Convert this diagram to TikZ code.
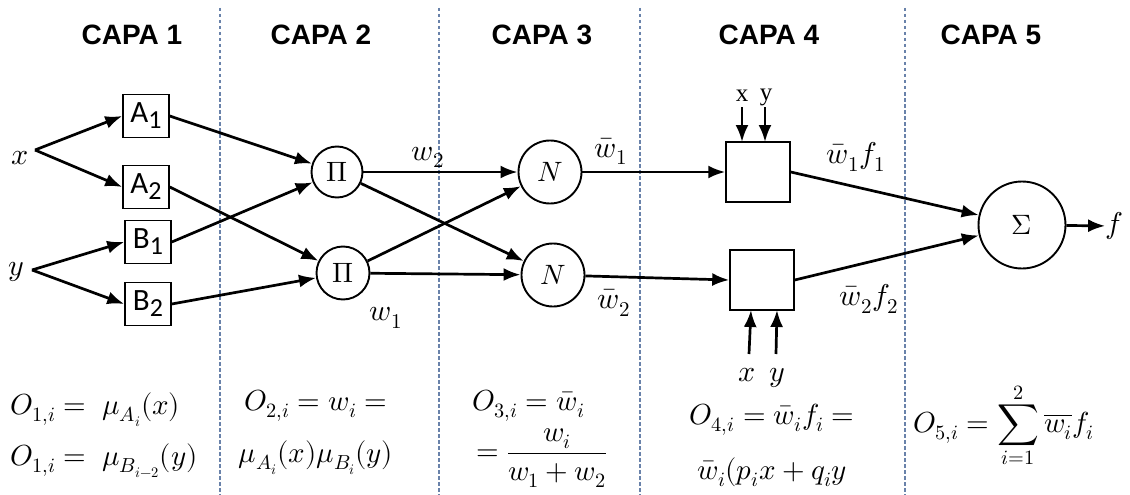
\documentclass[tikz,border=0pt]{standalone}
\usepackage{amsmath}
\usepackage{fontspec}
\usepackage{unicode-math}
\setmathfont{Latin Modern Math}
\newfontfamily\capafont{Liberation Sans}
\newfontfamily\boxfont{Carlito}
\newfontfamily\serifxy{Liberation Serif}
\definecolor{sepcol}{RGB}{105,130,170}
\usetikzlibrary{arrows.meta,calc}
\begin{document}
\begin{tikzpicture}[x=1pt,y=-1pt,
  conn/.style={line width=2.7pt,-{Latex[length=17pt,width=13pt]}},
  sep/.style={draw=sepcol,line width=1.2pt,dash pattern=on 3.5pt off 2.5pt},
  mfbox/.style={draw,line width=1.5pt,minimum width=46pt,minimum height=43pt,inner sep=0pt},
  opbox/.style={draw,line width=1.5pt,minimum width=64pt,minimum height=60pt,inner sep=0pt},
  opcirc/.style={draw,circle,line width=1.9pt,inner sep=0pt,font=\fontsize{28}{32}\selectfont},
  capa/.style={font=\capafont\bfseries\fontsize{28}{32}\selectfont,inner sep=0pt},
  lab/.style={font=\fontsize{30}{36}\selectfont,inner sep=0pt},
  eq/.style={font=\fontsize{29}{36}\selectfont,inner sep=0pt}
]
\newcommand\mflabel[2]{{\fontsize{31}{33}\selectfont\boxfont #1\raisebox{-0.4ex}{\fontsize{26}{28}\selectfont\boxfont #2}}}
\useasboundingbox (0,0) rectangle (1130,495);
\fill[white] (0,0) rectangle (1130,495);
% separators
\draw[sep] (220,8) -- (220,495);
\draw[sep] (439,8) -- (439,495);
\draw[sep] (640,8) -- (640,495);
\draw[sep] (905,8) -- (905,495);
% headings
\node[capa] (c1) at (132,35) {CAPA 1};
\node[capa] (c2) at (321,35) {CAPA 2};
\node[capa] (c3) at (542,35) {CAPA 3};
\node[capa] (c4) at (769,35) {CAPA 4};
\node[capa] (c5) at (991,35) {CAPA 5};
% inputs
\node[lab] (xl) at (20,158) {$x$};
\node[lab] (yl) at (16,272) {$y$};
\coordinate (xs) at (35,150);
\coordinate (ys) at (32,270);
% layer 1 boxes
\node[mfbox] (A1) at (146,116) {\mflabel{A}{1}};
\node[mfbox] (A2) at (146,187) {\mflabel{A}{2}};
\node[mfbox] (B1) at (148,242) {\mflabel{B}{1}};
\node[mfbox] (B2) at (148,304) {\mflabel{B}{2}};
% layer 2
\node[opcirc,minimum size=51pt] (P1) at (337,172) {$\Pi$};
\node[opcirc,minimum size=53pt] (P2) at (343,273) {$\Pi$};
% layer 3
\node[opcirc,minimum size=63pt] (N1) at (550,172) {$N$};
\node[opcirc,minimum size=63pt] (N2) at (553,275) {$N$};
% layer 4
\node[opbox] (R1) at (758,172) {};
\node[opbox] (R2) at (762,280) {};
% layer 5
\node[opcirc,minimum size=87pt] (S) at (1022,225) {$\Sigma$};
\node[lab] (f) at (1114,226) {$f$};
% connectors
\draw[conn] (xs) -- (A1.west);
\draw[conn] (xs) -- (A2.west);
\draw[conn] (ys) -- (B1.west);
\draw[conn] (ys) -- (B2.west);
\draw[conn] (A1.east) -- (P1);
\draw[conn] (B1.east) -- (P1);
\draw[conn] (A2.east) -- (P2);
\draw[conn] (B2.east) -- (P2);
\draw[conn] (P1) -- (N1);
\draw[conn] (P1) -- (N2);
\draw[conn] (P2) -- (N1);
\draw[conn] (P2) -- (N2);
\draw[conn] (N1) -- (R1.west);
\draw[conn] (N2) -- (R2.west);
\draw[conn] (R1.east) -- (S);
\draw[conn] (R2.east) -- (S);
\draw[conn] (S) -- (f);
% x y inputs to layer 4
\node[lab,font=\serifxy\fontsize{25}{28}\selectfont] (tx) at (742,96) {x};
\node[lab,font=\serifxy\fontsize{25}{28}\selectfont] (ty) at (766,97) {y};
\coordinate (tx1) at (742,107);
\coordinate (ty1) at (765,107);
\coordinate (tx2) at (742,142);
\coordinate (ty2) at (765,142);
\draw[conn] (tx1) -- (tx2);
\draw[conn] (ty1) -- (ty2);
\coordinate (bx1) at (749,354);
\coordinate (by1) at (776,354);
\coordinate (bx2) at (751,310);
\coordinate (by2) at (777,310);
\draw[conn] (bx1) -- (bx2);
\draw[conn] (by1) -- (by2);
\node[lab] (bxl) at (747,375) {$x$};
\node[lab] (byl) at (777,378) {$y$};
% edge labels
\node[lab,anchor=south] (w2) at (428,168) {$w_2$};
\node[lab] (w1) at (386,318) {$w_1$};
\node[lab,anchor=south] (wb1) at (611,165) {$\bar w_1$};
\node[lab] (wb2) at (614,303) {$\bar w_2$};
\node[lab] (wf1) at (856,157) {$\bar w_1 f_1$};
\node[lab] (wf2) at (869,299) {$\bar w_2 f_2$};
% formulas
\node[eq,anchor=west] (e11) at (10,410) {$O_{1,i} =\; \mu_{A_i}(x)$};
\node[eq,anchor=west] (e12) at (10,461) {$O_{1,i} =\; \mu_{B_{i-2}}(y)$};
\node[eq] (e21) at (316,406) {$O_{2,i} = w_i =$};
\node[eq] (e22) at (316,458) {$\mu_{A_i}(x)\mu_{B_i}(y)$};
\node[eq,anchor=west] (e31) at (472,406) {$O_{3,i} = \bar w_i$};
\node[eq,anchor=west] (e32) at (476,458) {$= \dfrac{w_i}{w_1 + w_2}$};
\node[eq] (e41) at (772,420) {$O_{4,i} = \bar w_i f_i =$};
\node[eq] (e42) at (772,472) {$\bar w_i(p_i x + q_i y$};
\node[eq,anchor=west] (e51) at (913,425) {$O_{5,i} = \displaystyle\sum_{i=1}^{2} \overline{w_i} f_i$};
\end{tikzpicture}
\end{document}
